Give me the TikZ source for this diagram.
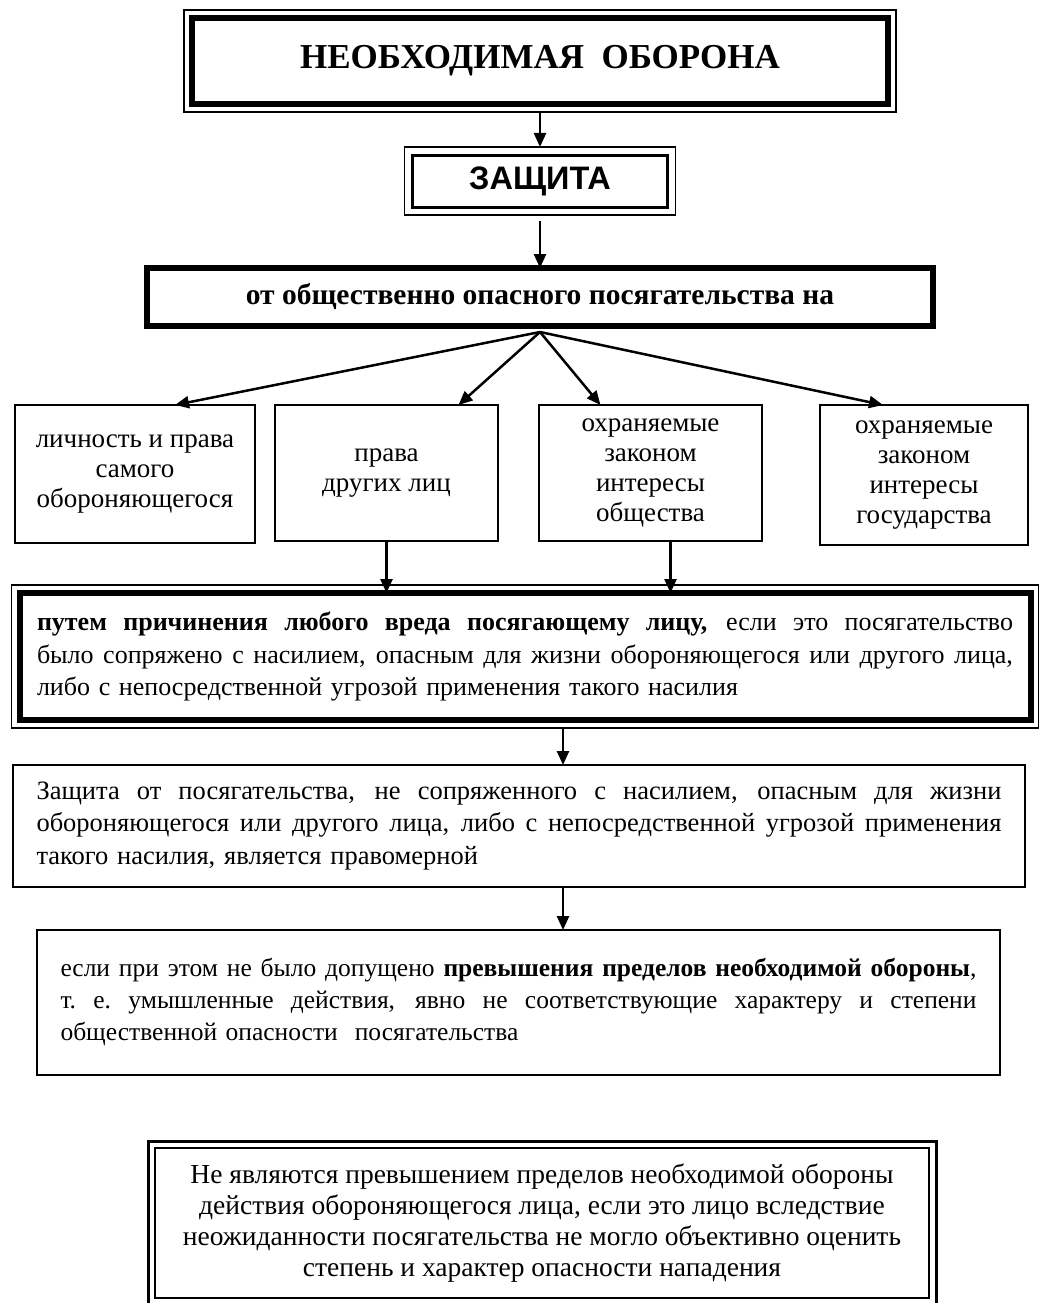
\documentclass[tikz,border=0pt]{standalone}
\usepackage{fontspec}
\setmainfont{Liberation Serif}
\newfontfamily\headsans{Liberation Sans}
\usetikzlibrary{arrows.meta, positioning, calc}

\newcommand{\fullline}[1]{{\spaceskip=0.25em plus 2em minus 0.05em
    \xspaceskip=\spaceskip\makebox[\linewidth][s]{#1}}}

\begin{document}
\begin{tikzpicture}[
    x=1pt, y=1pt,
    box/.style={draw, line width=2.5pt, inner sep=0pt, outer sep=0pt, align=center,
                font=\fontsize{27}{30}\selectfont},      % plain boxes
    heavybox/.style={box, line width=6pt},                % boxes with thick border
    textbox/.style={box, align=left, font=\fontsize{26}{32.5}\selectfont}, % long text boxes
    frame/.style={draw, line width=1.5pt},                % outer line of double frames
    arr/.style={-{Triangle[length=14pt, width=12pt]}, line width=2.5pt}
]

\useasboundingbox (0,0) rectangle (1040,-1303);

% --- HEAD ---
\node[heavybox, minimum width=696pt, minimum height=86pt,
      font=\bfseries\fontsize{35}{40}\selectfont] (title) at (540,-61) {НЕОБХОДИМАЯ\ \ ОБОРОНА};
\node[box, line width=3pt, minimum width=255pt, minimum height=52pt,
      font=\headsans\bfseries\fontsize{32.5}{36}\selectfont] (zashch) at (540,-181) {ЗАЩИТА};
\node[heavybox, minimum width=786pt, minimum height=58pt,
      font=\bfseries\fontsize{29.5}{34}\selectfont] (ot) at (540,-297) {от общественно опасного посягательства на};

% --- OBJECTS ---
\node[box, minimum width=240pt, minimum height=138pt] (lich) at (135,-474) {личность и права\\самого\\обороняющегося};
\node[box, minimum width=223pt, minimum height=136pt] (drug) at (386.5,-473) {права\\других лиц};
\node[box, minimum width=223pt, minimum height=136pt] (obsh) at (650.5,-473) {охраняемые\\законом\\интересы\\общества};
\node[box, minimum width=208pt, minimum height=140pt] (gos) at (924,-475) {охраняемые\\законом\\интересы\\государства};

% --- TEXT BOXES ---
\node[textbox, line width=6pt, minimum width=1011pt, minimum height=127pt, text width=976pt] (harm) at (525,-656.5) {%
    \fullline{\textbf{путем причинения любого вреда посягающему лицу,} если это посягательство}\\
    \fullline{было сопряжено с насилием, опасным для жизни обороняющегося или другого лица,}\\
    либо с непосредственной угрозой применения такого насилия};
\node[textbox, minimum width=1012pt, minimum height=122pt, text width=965pt,
      font=\fontsize{26.5}{32.5}\selectfont] (def) at (519,-826) {%
    \fullline{Защита от посягательства, не сопряженного с насилием, опасным для жизни}\\
    \fullline{обороняющегося или другого лица, либо с непосредственной угрозой применения}\\
    такого насилия, является правомерной};
\node[textbox, minimum width=963pt, minimum height=145pt, text width=916pt,
      font=\fontsize{25.5}{32}\selectfont] (lim) at (518.5,-1002.5) {%
    \fullline{если при этом не было допущено \textbf{превышения пределов необходимой обороны},}\\
    \fullline{т.~е. умышленные действия, явно не соответствующие характеру и степени}\\
    общественной опасности~ посягательства};
\node[box, line width=2pt, minimum width=774pt, minimum height=150pt,
      font=\fontsize{27.5}{31}\selectfont] (excl) at (542,-1223) {%
    Не являются превышением пределов необходимой обороны\\
    действия обороняющегося лица, если это лицо вследствие\\
    неожиданности посягательства не могло объективно оценить\\
    степень и характер опасности нападения};

% --- OUTER LINES OF DOUBLE FRAMES ---
\foreach \n/\d/\w in {title/8/1.5, zashch/8/1.5, harm/8/1.5, excl/7/3}
    \draw[frame, line width=\w pt] ($(\n.north west)+(-\d,\d)$) rectangle ($(\n.south east)+(\d,-\d)$);

% --- ARROWS ---
\draw[arr] ([yshift=-8pt]title.south) -- ([yshift=8pt]zashch.north);
\draw[arr] ([yshift=-14pt]zashch.south) -- (ot.north);
\draw[arr] ([yshift=-6pt]ot.south) -- ([xshift=40pt]lich.north);
\draw[arr] ([yshift=-6pt]ot.south) -- ([xshift=72pt]drug.north);
\draw[arr] ([yshift=-6pt]ot.south) -- ([xshift=-50pt]obsh.north);
\draw[arr] ([yshift=-6pt]ot.south) -- ([xshift=-41pt]gos.north);
\draw[arr] (drug.south) -- (drug.south |- harm.north);
\draw[arr] ([xshift=20pt]obsh.south) -- ([xshift=20pt]obsh.south |- harm.north);
\draw[arr] ([xshift=38pt,yshift=-8pt]harm.south) -- ([xshift=44pt]def.north);
\draw[arr] ([xshift=44pt]def.south) -- ([xshift=44.5pt]lim.north);

\end{tikzpicture}
\end{document}
